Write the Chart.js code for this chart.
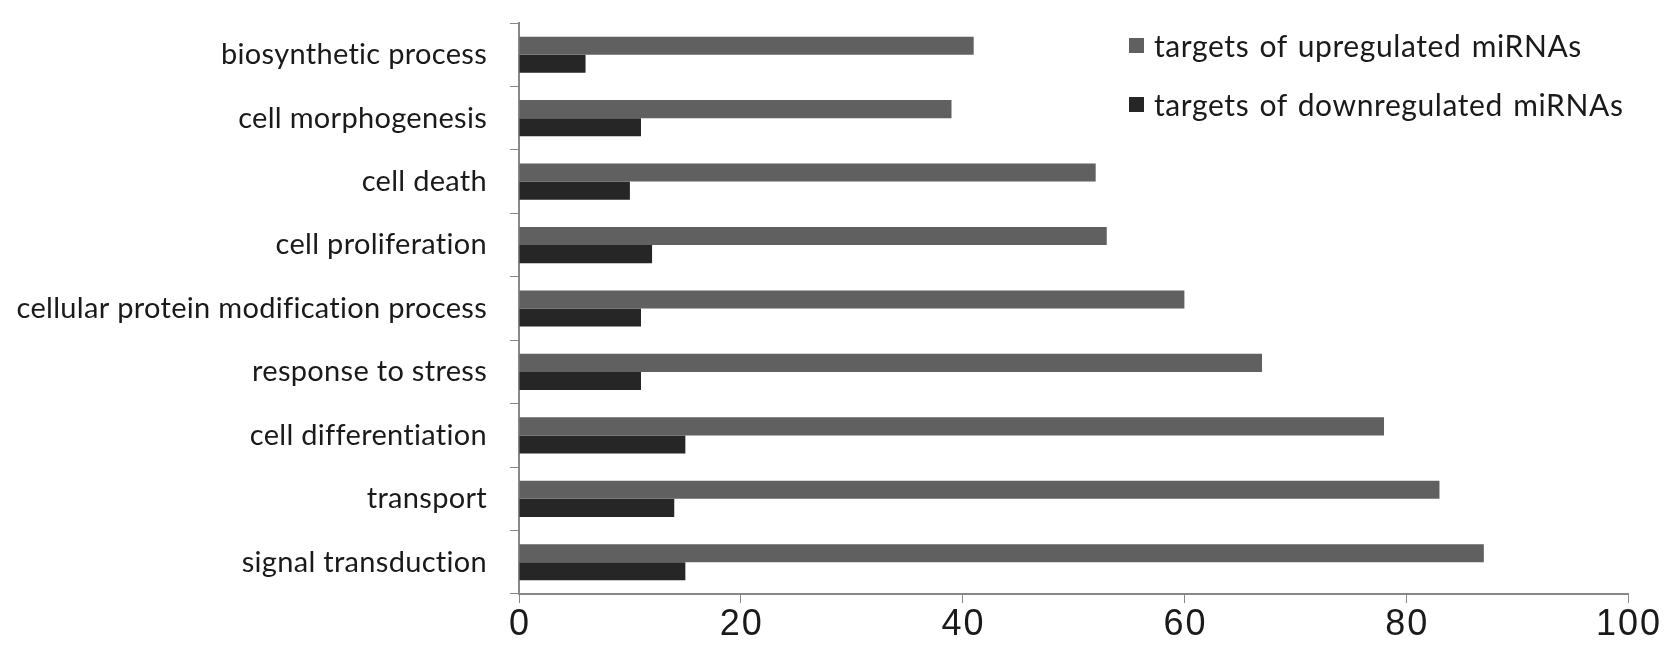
<!DOCTYPE html>
<html>
<head>
<meta charset="utf-8">
<script src="https://cdn.jsdelivr.net/npm/chart.js@4/dist/chart.umd.min.js"></script>
<style>
  html, body { margin: 0; padding: 0; background: #fff; }
  #wrap { position: relative; width: 1677px; height: 661px; }
  #legend { position: absolute; left: 1129px; top: 28px; font-family: Lato, "Open Sans", sans-serif; font-size: 30px; color: #1a1a1a; font-variant-ligatures: none; letter-spacing: 0.6px; word-spacing: 2px; }
  #legend .item { display: flex; align-items: center; height: 34px; margin-bottom: 25px; white-space: nowrap; }
  #legend .sw { width: 15px; height: 15px; margin-right: 10px; }
</style>
</head>
<body>
<div id="wrap">
  <canvas id="c" width="1677" height="661"></canvas>
  <div id="legend"></div>
</div>
<script>
const categories = [
  "biosynthetic process",
  "cell morphogenesis",
  "cell death",
  "cell proliferation",
  "cellular protein modification process",
  "response to stress",
  "cell differentiation",
  "transport",
  "signal transduction"
];
const upregulated = [41, 39, 52, 53, 60, 67, 78, 83, 87];
const downregulated = [6, 11, 10, 12, 11, 11, 15, 14, 15];
const seriesNames = ["targets of upregulated miRNAs", "targets of downregulated miRNAs"];
const seriesColors = ["#606060", "#262626"];
const xTicks = [0, 20, 40, 60, 80, 100];

const textTweaks = {
  id: 'textTweaks',
  beforeDraw(chart) {
    const c = chart.ctx;
    try { c.textRendering = 'optimizeSpeed'; } catch (e) {}
    try { c.letterSpacing = '0.3px'; } catch (e) {}
  },
  afterLayout(chart) {
    const s = chart.scales.x;
    if (s._patched) return;
    const orig = s.drawLabels.bind(s);
    s.drawLabels = function (area) {
      const c = chart.ctx;
      c.save();
      try { c.letterSpacing = '2px'; } catch (e) {}
      c.translate(1, 0);
      orig(area);
      c.restore();
    };
    s._patched = true;
  }
};

const ctx = document.getElementById('c').getContext('2d');
const chart = new Chart(ctx, {
  type: 'bar',
  data: {
    labels: categories,
    datasets: [
      { label: seriesNames[0], data: upregulated, backgroundColor: seriesColors[0], borderWidth: 0 },
      { label: seriesNames[1], data: downregulated, backgroundColor: seriesColors[1], borderWidth: 0 }
    ]
  },
  plugins: [textTweaks],
  options: {
    responsive: false,
    animation: false,
    indexAxis: 'y',
    categoryPercentage: 0.57,
    barPercentage: 1.0,
    layout: { padding: { top: 23, right: 49, left: 0, bottom: 0 } },
    plugins: { legend: { display: false }, tooltip: { enabled: false } },
    scales: {
      x: {
        min: 0, max: 100,
        afterBuildTicks: (s) => { s.ticks = xTicks.map(v => ({ value: v })); },
        afterFit: (s) => { s.height = 67; },
        grid: { drawOnChartArea: false, drawTicks: true, tickLength: 9, color: '#888', tickColor: '#888' },
        border: { color: '#888', width: 2 },
        ticks: { padding: 0, color: '#1a1a1a', font: { family: '"Liberation Sans Narrow", "Liberation Sans", sans-serif', size: 36 } }
      },
      y: {
        afterFit: (s) => { s.width = 519; s.paddingTop = 0; s.paddingBottom = 0; },
        grid: { drawOnChartArea: false, offset: true, tickLength: 9, color: '#888', tickColor: '#888' },
        border: { color: '#888', width: 2 },
        ticks: { padding: 23, color: '#1a1a1a', font: { family: 'Lato, "Open Sans", sans-serif', size: 29 } }
      }
    }
  }
});

const lg = document.getElementById('legend');
chart.data.datasets.forEach(ds => {
  const it = document.createElement('div'); it.className = 'item';
  const sw = document.createElement('div'); sw.className = 'sw'; sw.style.background = ds.backgroundColor;
  const tx = document.createElement('span'); tx.textContent = ds.label;
  it.appendChild(sw); it.appendChild(tx); lg.appendChild(it);
});
</script>
</body>
</html>
